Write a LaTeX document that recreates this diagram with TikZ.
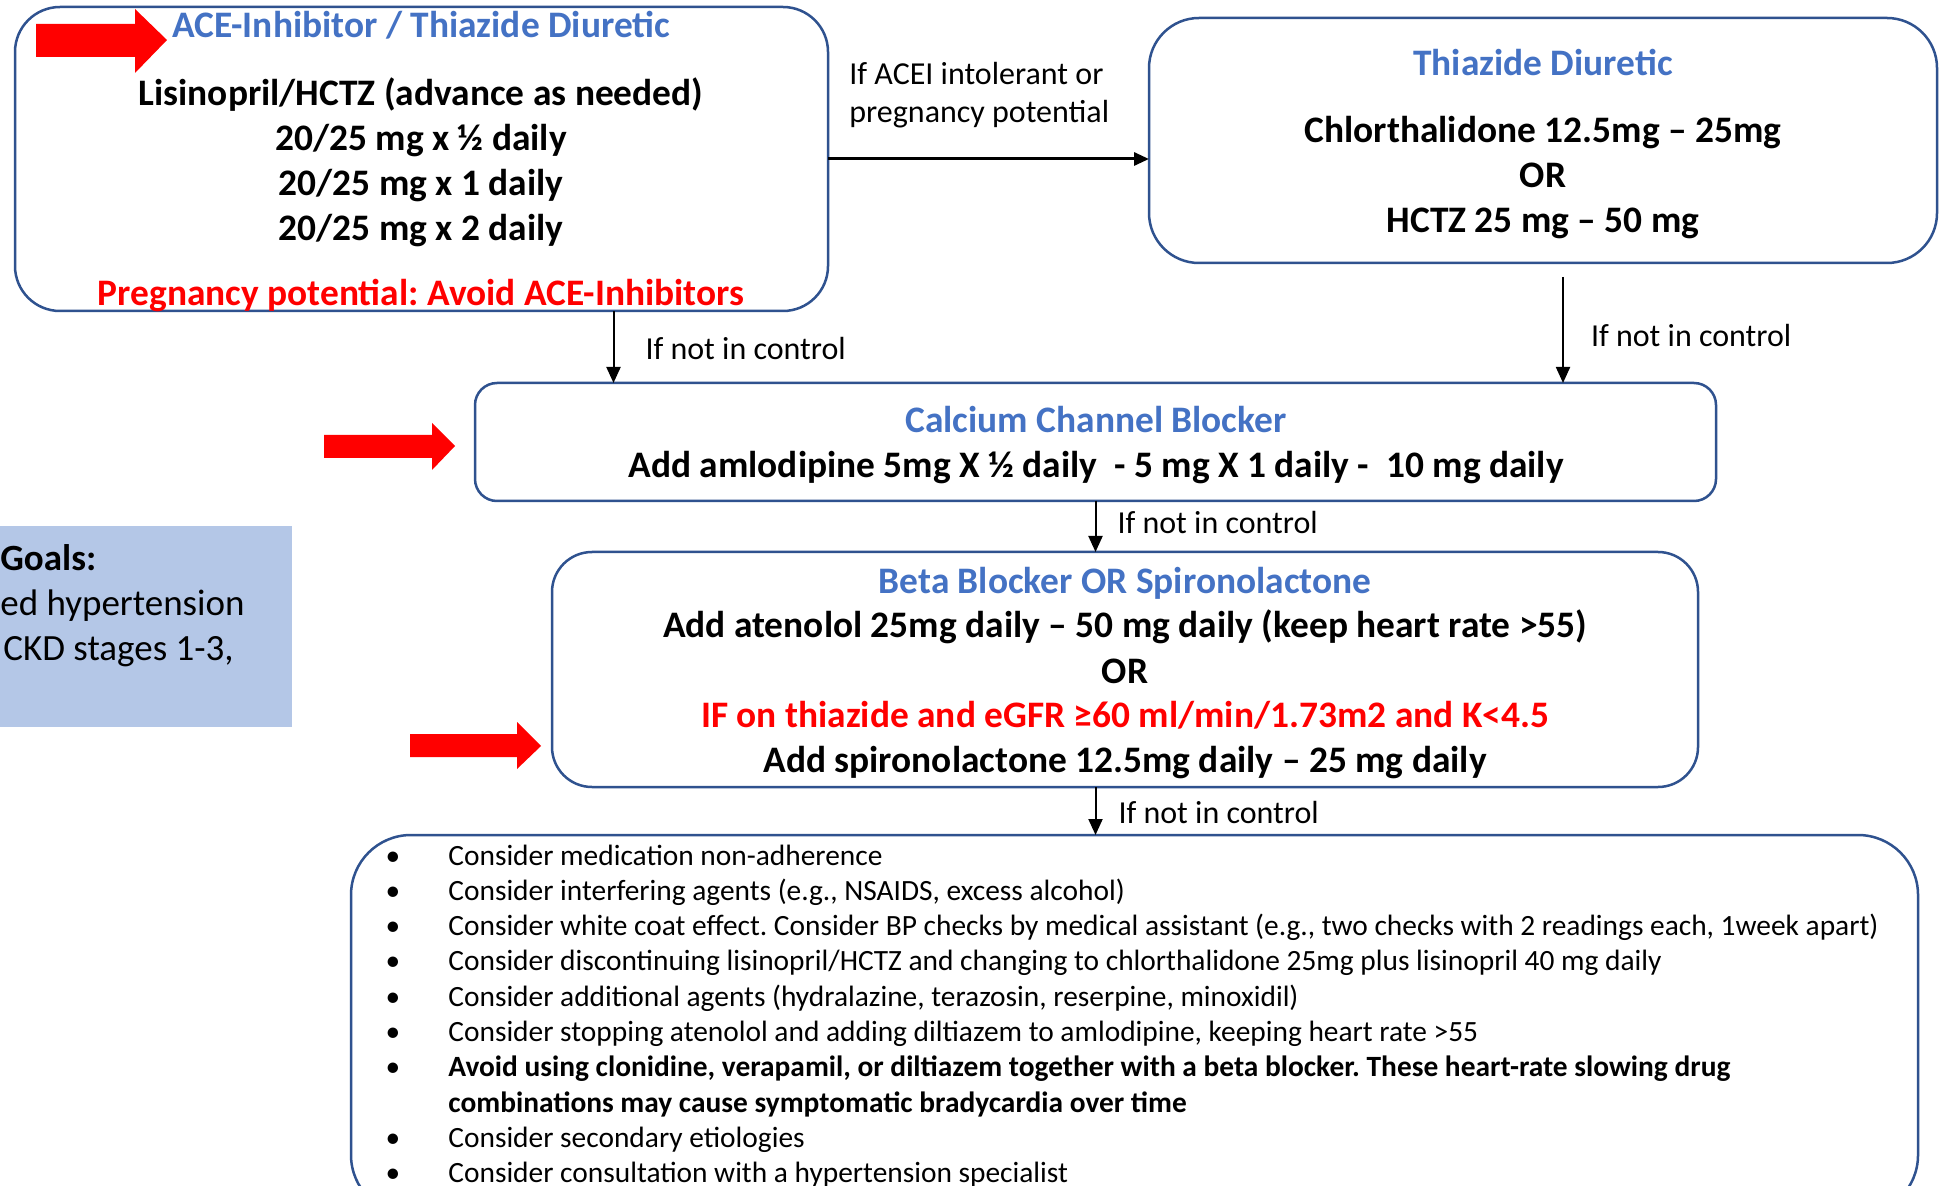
\documentclass[tikz,border=0pt]{standalone}
\usepackage{fontspec}
\setmainfont{Carlito}
\usetikzlibrary{arrows.meta}
\definecolor{boxblue}{RGB}{47,82,143}
\definecolor{hdblue}{RGB}{68,114,196}
\definecolor{goalfill}{RGB}{180,199,231}
\frenchspacing
\tikzset{
  box/.style={draw=boxblue,line width=1.25pt,fill=white,inner sep=0pt,outer sep=0pt},
  hd/.style={anchor=base,text=hdblue,font=\bfseries\fontsize{18.7}{22}\selectfont,inner sep=0pt},
  txt/.style={anchor=base,font=\bfseries\fontsize{18.7}{22}\selectfont,inner sep=0pt},
  warn/.style={txt,text=red},
  goaltxt/.style={anchor=base west,font=\fontsize{18.5}{22}\selectfont,inner sep=0pt},
  lbl/.style={anchor=base west,font=\fontsize{16}{19}\selectfont,inner sep=0pt},
  itm/.style={anchor=base west,font=\fontsize{14.7}{17.6}\selectfont,inner sep=0pt},
  hint/.style={fill=red},
  go/.style={-{Triangle[length=8pt,width=7pt]},line width=1pt},
}

\begin{document}
\begin{tikzpicture}[x=0.5pt,y=-0.5pt]
  \clip (0,0) rectangle (1946,1186);
  \fill[white] (0,0) rectangle (1946,1186);
  % boxes
  \node[box,rounded corners=22.5pt,minimum width=406.5pt,minimum height=152pt] (ace) at (421.5,159) {};
  \node[box,rounded corners=25pt,minimum width=394pt,minimum height=122.5pt] (thz) at (1543,140.5) {};
  \node[box,rounded corners=11pt,minimum width=620.5pt,minimum height=59pt] (ccb) at (1095.5,442) {};
  \node[box,rounded corners=20pt,minimum width=573pt,minimum height=117.5pt] (bb) at (1125,669.5) {};
  \node[box,rounded corners=30pt,minimum width=783.5pt,minimum height=190pt] (lst) at (1134.5,1025) {};
  \node[fill=goalfill,inner sep=0pt,minimum width=151pt,minimum height=100.5pt] (goal) at (141,626.5) {};

  % first step
  \node[hd] (ace-t) at (421,38) {ACE-Inhibitor / Thiazide Diuretic};
  \foreach \t [count=\i] in {Lisinopril/HCTZ (advance as needed),20/25 mg x ½ daily,20/25 mg x 1 daily,20/25 mg x 2 daily}
    \node[txt] (ace-\i) at (421,{106+44.7*(\i-1)}) {\t};
  \node[warn] (ace-w) at (421,306) {Pregnancy potential: Avoid ACE-Inhibitors};

  % alternative
  \node[hd] (thz-t) at (1543,76) {Thiazide Diuretic};
  \foreach \t [count=\i] in {Chlorthalidone 12.5mg – 25mg,OR,HCTZ 25 mg – 50 mg}
    \node[txt] (thz-\i) at (1543,{143+45*(\i-1)}) {\t};

  % second step
  \node[hd] (ccb-t) at (1096,433) {Calcium Channel Blocker};
  \node[txt] (ccb-1) at (1096,478) {Add amlodipine 5mg X ½ daily\ \ - 5 mg X 1 daily -\ \ 10 mg daily};

  % third step
  \node[hd] (bb-t) at (1125,593) {Beta Blocker OR Spironolactone};
  \node[txt] (bb-1) at (1125,637) {Add atenolol 25mg daily – 50 mg daily (keep heart rate >55)};
  \node[txt] (bb-2) at (1125,683) {OR};
  \node[warn] (bb-3) at (1125,727) {IF on thiazide and eGFR ≥60 ml/min/1.73m2 and K<4.5};
  \node[txt] (bb-4) at (1125,772) {Add spironolactone 12.5mg daily – 25 mg daily};

  % goals
  \node[goaltxt,font=\bfseries\fontsize{18.5}{22}\selectfont] (goal-1) at (0,570) {Goals:};
  \node[goaltxt] (goal-2) at (0,615) {ed hypertension};
  \node[goaltxt] (goal-3) at (3,660) {CKD stages 1-3,};

  % red pointers
  \fill[hint] (36,24) -- (135,24) -- (135,9) -- (167,40) -- (135,73) -- (135,57) -- (36,57) -- cycle;
  \fill[hint] (324,435) -- (432,435) -- (432,423) -- (455,446) -- (432,470) -- (432,458) -- (324,458) -- cycle;
  \fill[hint] (410,734) -- (517,734) -- (517,722) -- (541,746) -- (517,769) -- (517,757) -- (410,757) -- cycle;

  % connectors
  \draw[-{Triangle[length=7.5pt,width=6.5pt]},line width=1.5pt] (ace.east) -- (ace.east -| thz.west);
  \node[lbl] (acei-1) at (849,85) {If ACEI intolerant or};
  \node[lbl] (acei-2) at (849,123) {pregnancy potential};
  \coordinate (s1) at ([xshift=96pt]ace.south);
  \draw[go] (s1) -- (s1 |- ccb.north) node[lbl,pos=.667,xshift=15.5pt] (nc1) {If not in control};
  \coordinate (s2) at ([xshift=10pt,yshift=-7pt]thz.south);
  \draw[go] (s2) -- (s2 |- ccb.north) node[lbl,pos=.66,xshift=13.5pt] (nc2) {If not in control};
  \draw[go] (ccb.south) -- (ccb.south |- bb.north) node[lbl,pos=.63,xshift=10.5pt] (nc3) {If not in control};
  \draw[go] (ccb.south |- bb.south) -- (ccb.south |- lst.north) node[lbl,pos=.75,xshift=11pt] (nc4) {If not in control};

  % last step
  \foreach \t [count=\i] in {Consider medication non-adherence,
      {Consider interfering agents (e.g., NSAIDS, excess alcohol)},
      {Consider white coat effect. Consider BP checks by medical assistant (e.g., two checks with 2 readings each, 1week apart)},
      Consider discontinuing lisinopril/HCTZ and changing to chlorthalidone 25mg plus lisinopril 40 mg daily,
      {Consider additional agents (hydralazine, terazosin, reserpine, minoxidil)},
      {Consider stopping atenolol and adding diltiazem to amlodipine, keeping heart rate >55},
      {\bfseries Avoid using clonidine, verapamil, or diltiazem together with a beta blocker. These heart-rate slowing drug},
      \bfseries combinations may cause symptomatic bradycardia over time,
      Consider secondary etiologies,
      Consider consultation with a hypertension specialist}
    \node[itm] (it-\i) at (448,{865+35.3*(\i-1)}) {\t};
  \foreach \i in {1,...,7,9,10}
    \node[itm,anchor=base] (dot-\i) at (393,{865+35.3*(\i-1)}) {•};
\end{tikzpicture}
\end{document}
